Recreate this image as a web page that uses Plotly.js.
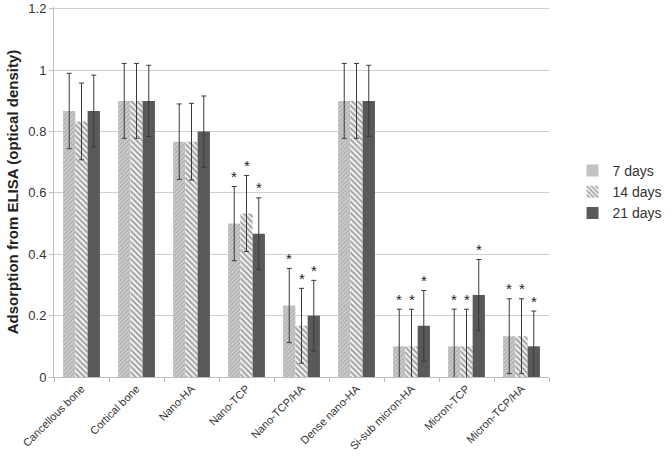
<!DOCTYPE html>
<html>
<head>
<meta charset="utf-8">
<script src="https://cdn.plot.ly/plotly-3.0.1.min.js"></script>
<style>html,body{margin:0;padding:0;background:#fff;}#chart{width:672px;height:457px;}</style>
</head>
<body>
<div id="chart"></div>
<script>
const categories = ["Cancellous bone","Cortical bone","Nano-HA","Nano-TCP","Nano-TCP/HA","Dense nano-HA","Si-sub micron-HA","Micron-TCP","Micron-TCP/HA"];
const seriesNames = ["7 days","14 days","21 days"];
const days7  = [0.867, 0.900, 0.767, 0.500, 0.233, 0.900, 0.100, 0.100, 0.133];
const days14 = [0.833, 0.900, 0.767, 0.533, 0.167, 0.900, 0.100, 0.100, 0.133];
const days21 = [0.867, 0.900, 0.800, 0.467, 0.200, 0.900, 0.167, 0.267, 0.100];
const err7   = [0.123, 0.122, 0.123, 0.121, 0.121, 0.122, 0.121, 0.121, 0.122];
const err14  = [0.125, 0.122, 0.125, 0.124, 0.122, 0.122, 0.121, 0.121, 0.122];
const err21  = [0.117, 0.116, 0.116, 0.117, 0.115, 0.116, 0.115, 0.116, 0.115];
const star7  = [false,false,false,true,true,false,true,true,true];
const star14 = [false,false,false,true,true,false,true,true,true];
const star21 = [false,false,false,true,true,false,true,true,true];
const yTicks = [0, 0.2, 0.4, 0.6, 0.8, 1, 1.2];
const yTickText = ["0","0.2","0.4","0.6","0.8","1","1.2"];

const errStyle = (arr) => ({type:'data', array: arr, visible:true, color:'#3a3a3a', thickness:1, width:2.5});

const traces = [
  {type:'bar', name:seriesNames[0], x:categories, y:days7, error_y:errStyle(err7),
   marker:{color:'#c4c4c4', line:{width:0}, pattern:{shape:'/', fgcolor:'#ababab', bgcolor:'#cbcbcb', size:3, solidity:0.35}}},
  {type:'bar', name:seriesNames[1], x:categories, y:days14, error_y:errStyle(err14),
   marker:{color:'#bcbcbc', line:{width:0}, pattern:{shape:'\\', fgcolor:'#9a9a9a', bgcolor:'#f2f2f2', size:4, solidity:0.45}}},
  {type:'bar', name:seriesNames[2], x:categories, y:days21, error_y:errStyle(err21),
   marker:{color:'#595959', line:{width:0}}}
];

// stars as annotations above the error bars
const shifts = [-12.3, 0, 12.3];
const vals = [days7, days14, days21];
const errs = [err7, err14, err21];
const stars = [star7, star14, star21];
const annotations = [];
for (let s = 0; s < 3; s++) {
  for (let i = 0; i < categories.length; i++) {
    if (stars[s][i]) {
      annotations.push({x: categories[i], y: vals[s][i] + errs[s][i], xref:'x', yref:'y',
        text:'*', showarrow:false, xshift: shifts[s], yshift: 10,
        font:{family:'Liberation Sans, Arial, sans-serif', size:15, color:'#222'}});
    }
  }
}

const layout = {
  width:672, height:457,
  margin:{l:54, r:123, t:7, b:80, autoexpand:false},
  paper_bgcolor:'#fff', plot_bgcolor:'#fff',
  font:{family:'Liberation Sans, Arial, sans-serif', color:'#333'},
  barmode:'group', bargap:0.33, bargroupgap:0,
  showlegend:true,
  legend:{xref:'container', x:0.852, y:0.5, xanchor:'left', yanchor:'middle', font:{size:14, color:'#333'},
          bgcolor:'rgba(0,0,0,0)', tracegroupgap:0, itemwidth:30},
  xaxis:{type:'category', showline:true, linecolor:'#bdbdbd', linewidth:1, automargin:false,
         ticks:'outside', tickson:'boundaries', ticklen:4, tickcolor:'#bdbdbd',
         tickangle:-45, tickfont:{size:11, color:'#333'}, showgrid:false},
  yaxis:{range:[0,1.206], tickvals:yTicks, ticktext:yTickText, showline:true, linecolor:'#bdbdbd',
         ticks:'outside', ticklen:4, tickcolor:'#bdbdbd', showgrid:true, gridcolor:'#cfcfcf', gridwidth:1,
         zeroline:false, tickfont:{size:13, color:'#333'}, automargin:false, ticklabeloverflow:'allow',
         title:{text:'<b>Adsorption from ELISA (optical density)</b>', font:{size:15, color:'#222'}, standoff:6}},
  annotations: annotations
};
Plotly.newPlot('chart', traces, layout, {displayModeBar:false, staticPlot:true});
</script>
</body>
</html>
